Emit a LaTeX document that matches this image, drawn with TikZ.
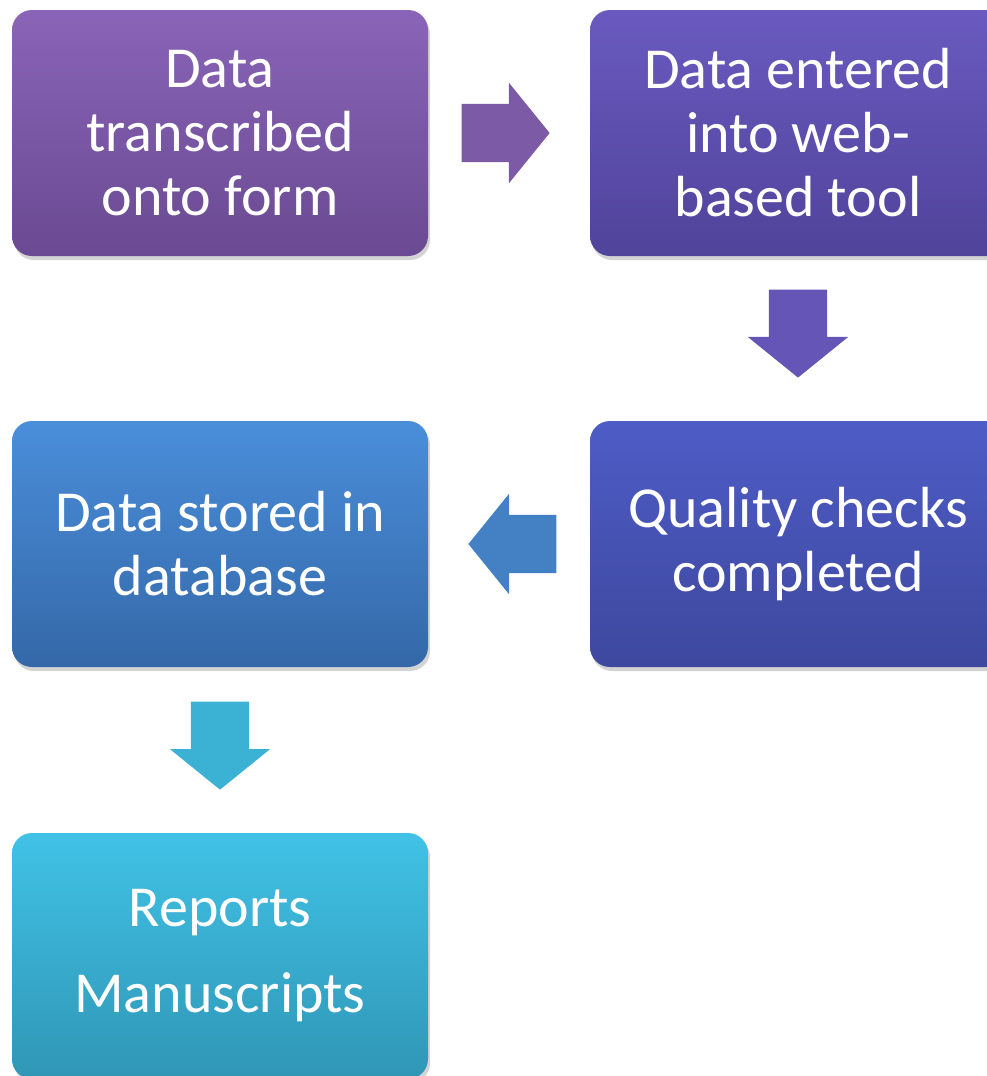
\documentclass[tikz,border=0pt]{standalone}
\usepackage{fontspec}
\setmainfont{Carlito}
\usetikzlibrary{shapes.arrows,shadows}

\definecolor{purpleTop}{HTML}{8A64B8}
\definecolor{purpleBot}{HTML}{6A4A92}
\definecolor{violetTop}{HTML}{6A5AC0}
\definecolor{violetBot}{HTML}{50439A}
\definecolor{indigoTop}{HTML}{4E5CC6}
\definecolor{indigoBot}{HTML}{3E489E}
\definecolor{blueTop}{HTML}{4A8EDA}
\definecolor{blueBot}{HTML}{3468A8}
\definecolor{cyanTop}{HTML}{40C2E6}
\definecolor{cyanBot}{HTML}{3096B6}

\tikzset{
  box/.style={rectangle, rounded corners=20pt, minimum width=416pt, minimum height=246pt,
    align=center, text=white, font=\fontsize{58}{64}\selectfont,
    drop shadow={opacity=0.35, shadow xshift=2pt, shadow yshift=-4pt}},
  flow/.style={single arrow, sloped, allow upside down, anchor=tip, inner xsep=0pt, inner ysep=29pt,
    minimum height=88pt, minimum width=100pt, single arrow head extend=21pt,
    single arrow tip angle=102}
}

\begin{document}
\begin{tikzpicture}[x=1pt,y=-1pt]
\useasboundingbox (0,0) rectangle (987,1076);

\node[box, top color=purpleTop, bottom color=purpleBot] (b1) at (220,133) {Data\\transcribed\\onto form};
\node[box, top color=violetTop, bottom color=violetBot] (b2) at (798,133) {Data entered\\into web-\\based tool};
\node[box, top color=indigoTop, bottom color=indigoBot] (b3) at (798,544) {Quality checks\\completed};
\node[box, top color=blueTop, bottom color=blueBot] (b4) at (220,544) {Data stored in\\database};
\node[box, top color=cyanTop, bottom color=cyanBot] (b5) at (220,956) {Reports\\[22pt]Manuscripts};

\path (b1) -- node[flow, pos=0.753, fill=purpleTop!90!black] (a12) {} (b2);
\path (b2) -- node[flow, pos=0.739, fill=violetTop!95!black] (a23) {} (b3);
\path (b3) -- node[flow, pos=0.753, fill=blueTop!90!black] (a34) {} (b4);
\path (b4) -- node[flow, pos=0.741, fill=cyanTop!92!black] (a45) {} (b5);
\end{tikzpicture}
\end{document}
